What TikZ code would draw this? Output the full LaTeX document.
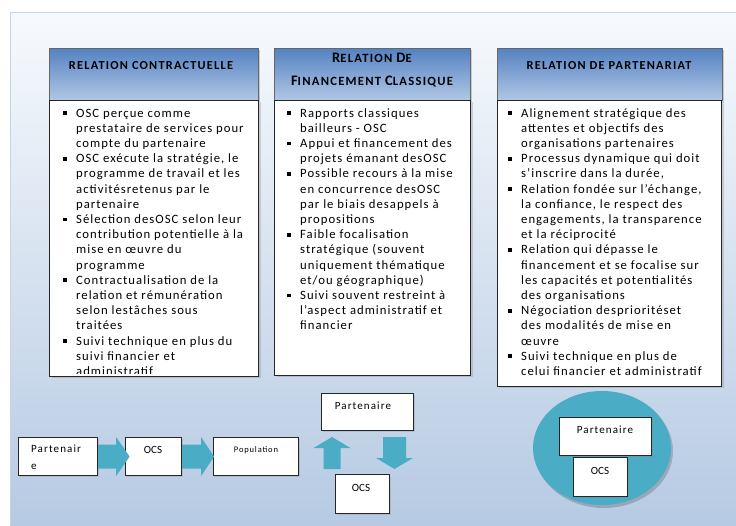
\documentclass[tikz,border=0pt]{standalone}
\usepackage{fontspec}
\setmainfont{Carlito}
\newfontfamily\bodyfam[LetterSpace=8]{Carlito}
\newfontfamily\hdrfam[LetterSpace=10]{Carlito}
\newfontfamily\smfam[LetterSpace=10]{Carlito}
\usetikzlibrary{calc,shadows,shapes.geometric}
\definecolor{panelTop}{HTML}{F7FAFD}
\definecolor{panelBot}{HTML}{B6CAE3}
\definecolor{hdrTop}{HTML}{5482C2}
\definecolor{hdrBot}{HTML}{B2C7E5}
\definecolor{accTeal}{HTML}{4BACC6}
\newcommand\bodyfont{\bodyfam\fontsize{12.7}{15}\selectfont}
\newcommand\hdrfont{\hdrfam\bfseries\fontsize{12.3}{14}\selectfont}
\newcommand\hbig{\fontsize{14.5}{16}\selectfont}
\newcommand\hsmall{\fontsize{12.6}{14}\selectfont}
\newcommand\smfont{\smfam\fontsize{11}{13}\selectfont}
\newcommand\bu{\llap{\rule[2pt]{3.8pt}{3.8pt}\hspace{9.5pt}}}
\begin{document}
\begin{tikzpicture}[x=1pt,y=-1pt,
  hdr/.style={draw=black!60, line width=0.8pt, top color=hdrTop, bottom color=hdrBot,
    drop shadow={opacity=0.35,shadow xshift=2pt,shadow yshift=-1.5pt}},
  bodybox/.style={draw=black!85, line width=1pt, fill=white,
    drop shadow={opacity=0.3,shadow xshift=2pt,shadow yshift=-1.5pt}},
  btxt/.style={anchor=base west, inner sep=0pt, font=\bodyfont},
  htxt/.style={inner sep=0pt, font=\hdrfont, anchor=base},
  sbox/.style={draw=black!85, line width=1.1pt, fill=white, anchor=north west, inner sep=0pt,
    drop shadow={opacity=0.25,shadow xshift=1.5pt,shadow yshift=-1.5pt}},
  stxt/.style={inner sep=0pt, font=\smfont},
  blk/.style={fill=accTeal}]
\useasboundingbox (0,0) rectangle (736,525);
% background panel
\fill[white] (0,0) rectangle (736,525);
\shade[top color=panelTop, bottom color=panelBot] (10,12) rectangle (736,525);
\draw[color=panelBot!80, line width=0.6pt] (10,525) -- (10,12) -- (736,12);

% ---------- headers ----------
\node[hdr, anchor=north west, minimum width=209pt, minimum height=52pt] (h1) at (49,48) {};
\node[hdr, anchor=north west, minimum width=196pt, minimum height=52pt] (h2) at (274,48) {};
\node[hdr, anchor=north west, minimum width=225pt, minimum height=52pt] (h3) at (497,48) {};
\node[htxt] (h1t) at (151,69) {RELATION CONTRACTUELLE};
\node[htxt] (h2t) at (372,62) {{\hbig R}{\hsmall ELATION} {\hbig D}{\hsmall E}};
\node[htxt] (h2u) at (372,85) {{\hbig F}{\hsmall INANCEMENT} {\hbig C}{\hsmall LASSIQUE}};
\node[htxt] (h3t) at (609,69) {RELATION DE PARTENARIAT};

% ---------- bodies ----------
\node[bodybox, anchor=north west, minimum width=209pt, minimum height=276pt] (b1) at (49,100) {};
\node[bodybox, anchor=north west, minimum width=196pt, minimum height=275pt] (b2) at (274,100) {};
\node[bodybox, anchor=north west, minimum width=224pt, minimum height=286pt] (b3) at (497,100) {};

\begin{scope}
\clip (49,100) rectangle (258,373.5);
\foreach \t [count=\i] in {{\bu OSC perçue comme},{prestataire de services pour},{compte du partenaire},
  {\bu OSC exécute la stratégie, le},{programme de travail et les},{activitésretenus par le},{partenaire},
  {\bu Sélection desOSC selon leur},{contribution potentielle à la},{mise en œuvre du},{programme},
  {\bu Contractualisation de la},{relation et rémunération},{selon lestâches sous},{traitées},
  {\bu Suivi technique en plus du},{suivi financier et},{administratif}}
  \node[btxt] (a\i) at (76,{117+15.2*(\i-1)}) {\t};
\end{scope}

\foreach \t [count=\i] in {{\bu Rapports classiques},{bailleurs - OSC},
  {\bu Appui et financement des},{projets émanant desOSC},
  {\bu Possible recours à la mise},{en concurrence desOSC},{par le biais desappels à},{propositions},
  {\bu Faible focalisation},{stratégique (souvent},{uniquement thématique},{et/ou géographique)},
  {\bu Suivi souvent restreint à},{l’aspect administratif et},{financier}}
  \node[btxt] (m\i) at (300,{117+15.2*(\i-1)}) {\t};

\foreach \t [count=\i] in {{\bu Alignement stratégique des},{attentes et objectifs des},{organisations partenaires},
  {\bu Processus dynamique qui doit},{s’inscrire dans la durée,},
  {\bu Relation fondée sur l’échange,},{la confiance, le respect des},{engagements, la transparence},{et la réciprocité},
  {\bu Relation qui dépasse le},{financement et se focalise sur},{les capacités et potentialités},{des organisations},
  {\bu Négociation desprioritéset},{des modalités de mise en},{œuvre},
  {\bu Suivi technique en plus de},{celui financier et administratif}}
  \node[btxt] (r\i) at (521,{117+15.2*(\i-1)}) {\t};

% ---------- bottom left chain ----------
\node[sbox, minimum width=79pt, minimum height=38pt] (pa) at (18,437) {};
\node[stxt, anchor=base west] (pat) at (31,452) {Partenair};
\node[stxt, anchor=base west] (pae) at (31,469) {e};
\node[sbox, minimum width=56pt, minimum height=38pt] (o1) at (125,437) {};
\node[stxt, anchor=base, font=\fontsize{11}{13}\selectfont] (o1t) at (153,453) {OCS};
\node[sbox, minimum width=85pt, minimum height=38pt] (pop) at (213,437) {};
\node[stxt, anchor=base, font=\smfam\fontsize{8.5}{10}\selectfont] (popt) at (256,452) {Population};

\fill[blk] ($(pa.east)+(0,-12)$) -- ++(18,0) -- ++(0,-7.5) -- ++(13.5,19.5) -- ++(-13.5,19.5)
  -- ++(0,-7.5) -- ++(-18,0) -- cycle;
\fill[blk] ($(o1.east)+(0,-12)$) -- ++(19,0) -- ++(0,-7.5) -- ++(13,19.5) -- ++(-13,19.5)
  -- ++(0,-7.5) -- ++(-19,0) -- cycle;

% ---------- middle: financing ----------
\node[sbox, minimum width=92pt, minimum height=37pt] (p2) at (321,393) {};
\node[stxt, anchor=base] (p2t) at (363,409) {Partenaire};
\node[sbox, minimum width=54pt, minimum height=39pt] (o2) at (335,474) {};
\node[stxt, anchor=base, font=\fontsize{11}{13}\selectfont] (o2t) at (361,491) {OCS};
% up arrow
\coordinate (upb) at (332,469);
\fill[blk] ($(upb)+(-8.5,0)$) -- ++(0,-21) -- ++(-10,0) -- ++(18.5,-11) -- ++(18.5,11)
  -- ++(-10,0) -- ++(0,21) -- cycle;
% down arrow
\coordinate (dnt) at (394.5,437);
\fill[blk] ($(dnt)+(-11.5,0)$) -- ++(0,21) -- ++(-7,0) -- ++(18.5,11) -- ++(18.5,-11)
  -- ++(-7,0) -- ++(0,-21) -- cycle;

% ---------- right: partnership ----------
\fill[black, opacity=0.18] (604,451) ellipse [x radius=69, y radius=57];
\node[ellipse, fill=accTeal, minimum width=138pt, minimum height=114pt, inner sep=0pt] (circ) at (602,448) {};
\node[sbox, minimum width=92pt, minimum height=38pt] (p3) at (559,417) {};
\node[stxt, anchor=base] (p3t) at (605,433) {Partenaire};
\node[sbox, minimum width=54pt, minimum height=39pt] (o3) at (573,457) {};
\node[stxt, anchor=base, font=\fontsize{11}{13}\selectfont] (o3t) at (600,474) {OCS};
\end{tikzpicture}
\end{document}
